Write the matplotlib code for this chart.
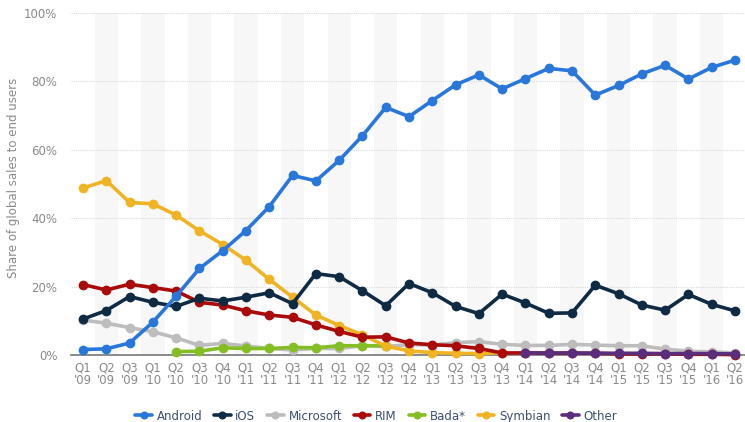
import matplotlib
matplotlib.use("Agg")
import matplotlib.pyplot as plt
import numpy as np

quarters = ["Q1\n'09", "Q2\n'09", "Q3\n'09", "Q1\n'10", "Q2\n'10", "Q3\n'10", "Q4\n'10",
            "Q1\n'11", "Q2\n'11", "Q3\n'11", "Q4\n'11", "Q1\n'12", "Q2\n'12", "Q3\n'12",
            "Q4\n'12", "Q1\n'13", "Q2\n'13", "Q3\n'13", "Q4\n'13", "Q1\n'14", "Q2\n'14",
            "Q3\n'14", "Q4\n'14", "Q1\n'15", "Q2\n'15", "Q3\n'15", "Q4\n'15", "Q1\n'16", "Q2\n'16"]

android = [1.6, 1.8, 3.5, 9.6, 17.2, 25.3, 30.5, 36.4, 43.4, 52.5, 50.9, 56.9, 64.1, 72.4,
           69.7, 74.4, 79.0, 81.9, 77.8, 80.8, 83.8, 83.1, 76.0, 78.8, 82.2, 84.7, 80.7, 84.1, 86.2]
ios = [10.5, 13.0, 17.1, 15.4, 14.2, 16.6, 15.8, 16.9, 18.2, 15.0, 23.8, 22.9, 18.8, 14.4,
       20.9, 18.2, 14.2, 12.1, 17.8, 15.2, 12.2, 12.3, 20.4, 17.9, 14.6, 13.1, 17.7, 14.8, 12.9]
microsoft = [10.2, 9.3, 8.0, 6.8, 5.0, 2.8, 3.4, 2.6, 1.9, 1.5, 1.9, 1.9, 2.7, 2.5,
             3.0, 2.9, 3.6, 3.9, 3.1, 2.8, 2.8, 3.1, 2.9, 2.7, 2.7, 1.7, 1.1, 0.9, 0.6]
rim = [20.6, 19.0, 20.7, 19.7, 18.7, 15.4, 14.6, 12.9, 11.7, 11.0, 8.8, 6.9, 5.2, 5.3,
       3.5, 3.0, 2.7, 1.9, 0.6, 0.6, 0.5, 0.5, 0.5, 0.3, 0.3, 0.3, 0.2, 0.2, 0.1]
bada = [None, None, None, None, 1.0, 1.1, 2.1, 1.9, 1.9, 2.2, 2.1, 2.7, 2.7, 2.7,
        None, None, None, None, None, None, None, None, None, None, None, None, None, None, None]
symbian = [48.8, 51.0, 44.6, 44.2, 40.9, 36.3, 32.3, 27.7, 22.1, 16.9, 11.7, 8.6, 5.9, 2.6,
           1.2, 0.7, 0.5, 0.4, 0.7, None, None, None, None, None, None, None, None, None, None]
other = [None] * 19 + [0.6, 0.6, 0.6, 0.5, 0.5, 0.5, 0.4, 0.4, 0.4, 0.3]

series = [
    ("Android", android, "#2a77dc"),
    ("iOS", ios, "#0f2a43"),
    ("Microsoft", microsoft, "#bdbdbd"),
    ("RIM", rim, "#aa0a0a"),
    ("Bada*", bada, "#84bd24"),
    ("Symbian", symbian, "#f0b323"),
    ("Other", other, "#5b2d7d"),
]
draw_order = ["Microsoft", "Bada*", "Symbian", "RIM", "Other", "iOS", "Android"]

fig = plt.figure(figsize=(7.45, 4.22), dpi=100)
ax = fig.add_axes([0.0958, 0.1588, 0.9064, 0.8104])

n = len(quarters)
x = np.arange(n)
for i in range(1, n, 2):
    ax.axvspan(i - 0.5, i + 0.5, color="#f7f7f7", zorder=0, lw=0)

for yv in [20, 40, 60, 80, 100]:
    ax.axhline(yv, color="#d9d9d9", lw=0.8, ls=(0, (1, 1)), zorder=1)

handles = {}
for name, vals, col in series:
    v = np.array([np.nan if a is None else a for a in vals], dtype=float)
    z = 3 + draw_order.index(name)
    h, = ax.plot(x, v, color=col, lw=2.6, marker="o", ms=6, mec=col, mfc=col,
                 zorder=z, label=name, solid_capstyle="round", clip_on=False)
    handles[name] = h

ax.set_xlim(-0.5, n - 0.5)
ax.set_ylim(0, 100)
ax.set_yticks([0, 20, 40, 60, 80, 100])
ax.set_yticklabels(["0%", "20%", "40%", "60%", "80%", "100%"])
ax.set_xticks(x)
ax.set_xticklabels(quarters, linespacing=0.95)

for s in ["top", "right", "left"]:
    ax.spines[s].set_visible(False)
ax.spines["bottom"].set_color("#777777")
ax.spines["bottom"].set_linewidth(1.2)
ax.tick_params(axis="both", length=0, colors="#8a8a8a", labelsize=8.5)
ax.tick_params(axis="y", pad=10)
ax.tick_params(axis="x", pad=5)

fig.text(0.018, 0.578, "Share of global sales to end users", rotation=90,
         ha="center", va="center", color="#8a8a8a", fontsize=8.5)

leg = fig.legend([handles[s[0]] for s in series], [s[0] for s in series],
                 loc="center", bbox_to_anchor=(0.505, 0.014), ncol=7, frameon=False,
                 fontsize=8.5, handlelength=1.4, handletextpad=0.4, columnspacing=1.0,
                 markerscale=0.8)
for t in leg.get_texts():
    t.set_color("#3d4f6e")

fig.savefig("out.png", dpi=100)
